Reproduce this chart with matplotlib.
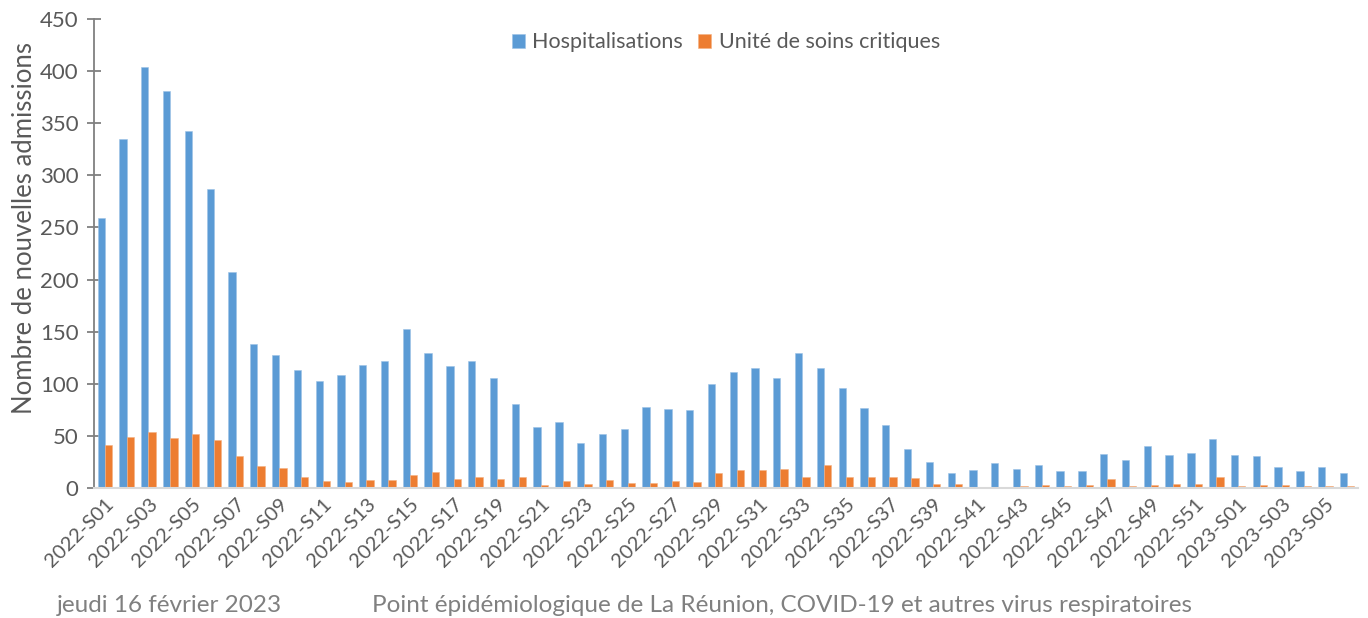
import numpy as np
import matplotlib.pyplot as plt

plt.rcParams['font.family'] = ['Lato', 'DejaVu Sans']

weeks = [f'2022-S{i:02d}' for i in range(1, 53)] + [f'2023-S{i:02d}' for i in range(1, 7)]

hospit = [259, 335, 404, 381, 343, 287, 207, 138, 128, 113,
          103, 108, 118, 122, 153, 130, 117, 122, 106, 81,
          59, 63, 43, 52, 57, 78, 76, 75, 100, 111,
          115, 106, 130, 115, 96, 77, 60, 37, 25, 14,
          17, 24, 18, 22, 16, 16, 33, 27, 40, 32,
          34, 47, 32, 31, 20, 16, 20, 14]

critiques = [41, 49, 54, 48, 52, 46, 31, 21, 19, 11,
             7, 6, 8, 8, 12, 15, 9, 11, 9, 11,
             3, 7, 4, 8, 5, 5, 7, 6, 14, 17,
             17, 18, 11, 22, 11, 11, 11, 10, 4, 4,
             1, 1, 2, 3, 2, 3, 9, 2, 3, 4,
             4, 11, 2, 3, 3, 2, 2, 2]

blue = '#5B9BD5'
orange = '#ED7D31'
txt = '#595959'

fig = plt.figure(figsize=(13.68, 6.18), dpi=100)
ax = fig.add_axes([94/1368, 1 - 488/618, (1358-94)/1368, (488-19)/618])

x = np.arange(len(weeks))
w = 0.335
ax.bar(x - w/2, hospit, width=w, color=blue, edgecolor='#9DC3E6', linewidth=0.4,
       label='Hospitalisations', zorder=2)
ax.bar(x + w/2, critiques, width=w, color=orange, edgecolor='#F4B183', linewidth=0.4,
       label='Unité de soins critiques', zorder=2)

ax.set_xlim(-0.5, len(weeks) - 0.5)
ax.set_ylim(0, 450)
ax.set_yticks(np.arange(0, 451, 50))
ax.set_xticks(x[::2])
ax.set_xticklabels(weeks[::2], rotation=45, ha='right', rotation_mode='anchor',
                   fontsize=14.5, color=txt)
ax.tick_params(axis='x', length=0, pad=5)
ax.tick_params(axis='y', direction='inout', length=10, width=1.3, color='#808080',
               labelsize=16, labelcolor=txt, pad=6)

for s in ['top', 'right']:
    ax.spines[s].set_visible(False)
ax.spines['left'].set_color('#808080')
ax.spines['left'].set_linewidth(1.3)
ax.spines['bottom'].set_color('#D9D9D9')
ax.spines['bottom'].set_linewidth(1.5)

ax.set_ylabel('Nombre de nouvelles admissions', fontsize=18.5, color=txt)
ax.yaxis.set_label_coords(-0.045, 0.554)

ax.legend(loc='upper center', bbox_to_anchor=(0.5, 1.013), ncol=2, frameon=False,
          fontsize=15.5, handlelength=0.6, handleheight=0.6, handletextpad=0.35,
          columnspacing=0.7, labelcolor=txt)

fig.text(57/1368, 1 - 612/618, 'jeudi 16 février 2023', fontsize=17.5, color='#808080',
         ha='left', va='baseline')
fig.text(372/1368, 1 - 612/618,
         'Point épidémiologique de La Réunion, COVID-19 et autres virus respiratoires',
         fontsize=17.5, color='#808080', ha='left', va='baseline')

fig.savefig('out.png', dpi=100)
